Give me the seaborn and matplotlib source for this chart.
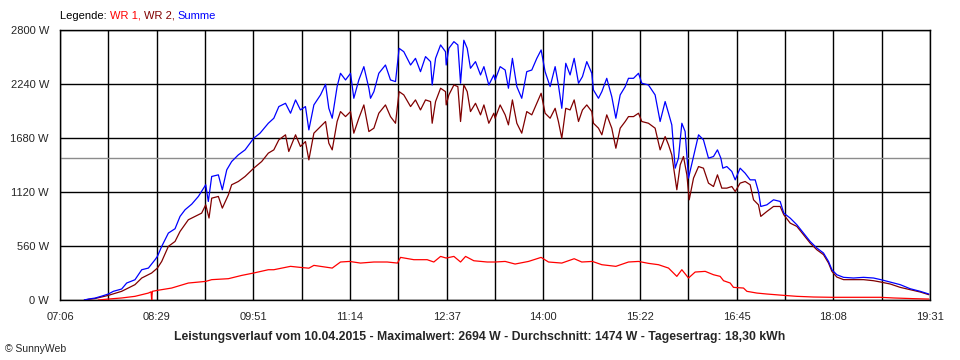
import numpy as np
import pandas as pd
import matplotlib
matplotlib.use("Agg")
import matplotlib.pyplot as plt
import seaborn as sns

# ---- data (minutes after midnight, watts) ----
t_summe = [446.8, 450.3, 456.0, 461.7, 467.4, 471.7, 478.8, 483.1, 490.2, 496.0, 501.7, 507.4, 509.4,
           513.1, 518.8, 524.5, 528.8, 533.1, 538.8, 544.5, 550.8, 553.0, 555.9, 561.6, 565.0, 568.8,
           573.0, 578.7, 584.5, 591.9, 597.3, 604.4,
           609.1, 613.4, 619.1, 623.4, 627.7, 631.9, 636.2, 639.1, 643.4, 649.1, 653.4, 656.2, 659.1,
           663.3, 666.2, 670.5, 674.8, 677.6, 681.9, 686.2, 690.5, 691.9, 694.8, 699.0, 704.7, 709.0,
           713.3, 716.4, 720.4, 726.2, 730.4, 734.7, 739.0, 743.3, 744.7, 747.6, 751.9, 756.1, 756.7,
           759.0, 763.3, 766.7, 769.0, 771.8, 774.7, 777.5, 781.8, 786.1, 789.0, 793.2, 797.5,
           798.6, 802.9, 807.2, 810.0, 813.4, 817.2, 821.4, 825.7, 830.0, 834.3, 838.0, 841.4, 845.7,
           850.0, 852.8, 855.7, 859.1, 862.8, 866.3, 870.0, 873.4, 877.1, 881.4, 882.8, 887.1, 890.0,
           894.2, 898.5, 902.0, 905.7, 910.0, 912.8, 917.1, 921.4, 924.2, 929.9, 935.6, 939.9, 944.2,
           947.1, 949.9, 952.8, 955.6, 958.5, 961.3, 964.2, 968.5, 972.8, 977.0, 981.3, 985.6,
           989.0, 991.9, 993.6, 997.0, 1001.3, 1004.2, 1008.4, 1012.7, 1017.0, 1021.3, 1024.1, 1026.1,
           1031.3, 1037.0, 1042.7, 1045.8, 1051.3, 1057.0, 1062.7, 1068.4, 1074.1, 1079.8, 1084.1,
           1087.0, 1091.2, 1097.0, 1105.5, 1114.1, 1122.6, 1128.9, 1136.9, 1145.5, 1154.0, 1162.6, 1170.0]
p_summe = [0, 10, 20, 40, 62, 90, 114, 176, 210, 314, 331, 418, 452,
           556, 694, 739, 867, 936, 994, 1074, 1195, 1022, 1281, 1298, 1143, 1350,
           1436, 1505, 1557, 1678, 1730, 1833,
           1885, 2006, 2040, 1937, 2075, 1971, 2006, 1764, 2023, 2127, 2237, 1988, 1885,
           2213, 2351, 2282, 2351, 2092, 2282, 2420, 2196, 2092, 2161, 2351, 2437, 2282,
           2265, 2610, 2575, 2437, 2506, 2368, 2524, 2472, 2230, 2506, 2645, 2575, 2437,
           2610, 2679, 2645, 2248, 2694, 2610, 2403, 2472, 2334, 2420, 2230, 2334,
           2282, 2420, 2385, 2196, 2506, 2213, 2092, 2368, 2385, 2506, 2593, 2368, 2213,
           2420, 2230, 1988, 2455, 2334, 2506, 2248, 2317, 2472, 2351, 2178, 2092, 2161,
           2299, 2109, 1885, 2127, 2213, 2299, 2299, 2351, 2248, 2230, 2127, 1851, 2058,
           1937, 1816, 1367, 1471, 1833, 1747, 1264, 1488, 1713, 1661, 1471, 1488,
           1557, 1471, 1367, 1384, 1333, 1246, 1367, 1315, 1246, 1246, 1125, 970,
           987, 1039, 1022, 901, 849, 780, 694, 607, 539, 487, 400,
           314, 262, 235, 228, 235, 228, 211, 186, 159, 117, 90, 62]

t_wr2 = [446.8, 456.0, 467.4, 478.8, 490.2, 496.0, 504.5, 509.4, 513.1, 518.8, 524.5, 528.8, 535.9,
         541.6, 547.3, 550.8, 553.6, 555.9, 561.6, 565.0, 570.2, 573.0, 578.7, 584.5, 591.9, 598.7,
         604.4,
         609.1, 613.4, 619.1, 621.9, 627.7, 631.9, 636.2, 639.1, 643.4, 649.1, 653.4, 656.2, 659.1,
         663.3, 666.2, 670.5, 674.8, 677.6, 681.9, 686.2, 690.5, 694.8, 699.0, 704.7, 709.0, 713.3,
         716.4, 720.4, 726.2, 730.4, 734.7, 739.0, 743.3, 744.7, 747.6, 751.9, 756.1, 756.7, 759.0,
         763.3, 766.7, 769.0, 771.8, 774.7, 777.5, 781.8, 786.1, 789.0, 793.2, 797.5,
         798.6, 802.9, 807.2, 810.0, 813.4, 817.2, 821.4, 825.7, 830.0, 834.3, 838.0, 841.4, 845.7,
         850.0, 852.8, 855.7, 859.1, 862.8, 866.3, 870.0, 873.4, 877.1, 881.4, 882.8, 887.1, 890.0,
         894.2, 898.5, 902.0, 905.7, 910.0, 912.8, 917.1, 921.4, 924.2, 929.9, 935.6, 939.9, 944.2,
         947.1, 949.9, 954.2, 957.1, 959.9, 962.8, 964.8, 968.5, 972.8, 977.0, 981.3, 985.6, 989.0,
         992.7, 997.0, 1001.3, 1004.2, 1008.4, 1012.7, 1017.0, 1019.9, 1024.1, 1026.1, 1031.3, 1037.0,
         1042.7, 1045.8, 1051.3, 1057.0, 1062.7, 1068.4, 1074.1, 1079.8, 1084.1, 1087.0, 1091.2,
         1097.0, 1105.5, 1114.1, 1122.6, 1128.9, 1136.9, 1145.5, 1154.0, 1162.6, 1170.0]
p_wr2 = [0, 15, 48, 90, 159, 228, 280, 331, 400, 556, 607, 711, 832,
         867, 901, 987, 850, 1056, 1074, 953, 1091, 1195, 1229, 1281, 1367, 1436,
         1523,
         1557, 1661, 1713, 1540, 1713, 1592, 1643, 1453, 1730, 1799, 1851, 1626, 1557,
         1851, 1954, 1902, 1954, 1730, 1885, 2023, 1747, 1782, 1937, 2023, 1902, 1833,
         2161, 2127, 2006, 2075, 1971, 2075, 2058, 1833, 2058, 2196, 2161, 2023, 2127,
         2230, 2213, 1851, 2230, 2161, 1954, 2040, 1920, 2023, 1833, 1937,
         1885, 2023, 1920, 1816, 2075, 1833, 1730, 1954, 1920, 2040, 2144, 1937, 1885,
         1988, 1851, 1678, 1988, 1971, 2075, 1851, 1971, 2023, 1954, 1833, 1782, 1713,
         1920, 1782, 1574, 1782, 1851, 1902, 1902, 1937, 1851, 1833, 1782, 1557, 1695,
         1609, 1505, 1143, 1402, 1488, 1298, 1039, 1264, 1384, 1367, 1212, 1177, 1298,
         1160, 1160, 1177, 1125, 1212, 1229, 1195, 1039, 987, 867, 918, 970,
         970, 884, 797, 763, 677, 590, 521, 470, 383, 297, 238,
         211, 211, 211, 200, 186, 166, 131, 107, 83, 55]

t_wr1 = [458.8, 467.4, 478.8, 490.2, 501.7, 504.0, 504.5, 505.1, 509.4, 521.6, 535.9, 550.8, 555.9,
         570.2, 581.6, 591.9, 604.4,
         609.1, 623.4, 631.9, 639.1, 643.4, 659.1, 666.2, 673.9, 683.3, 694.8, 706.2, 715.0, 717.6,
         729.0, 740.4, 746.1, 751.9, 756.7, 763.3, 769.0, 773.3, 780.4, 791.8,
         798.6, 807.2, 815.7, 827.2, 838.0, 844.3, 855.7, 866.3, 872.8, 881.9, 890.0, 902.0, 912.8,
         921.4, 929.9, 938.5, 947.1, 954.2, 958.5, 964.2, 969.9, 978.5, 985.6,
         991.3, 994.2, 999.9, 1002.7, 1011.3, 1014.2, 1022.7, 1031.3, 1045.8, 1057.0, 1071.3,
         1087.0, 1128.4, 1139.8, 1156.9, 1170.0]
p_wr1 = [0, 10, 21, 38, 72, 85, 0, 90, 100, 124, 176, 193, 211,
         221, 255, 280, 314,
         314, 349, 338, 330, 359, 331, 394, 400, 383, 394, 394, 383, 442,
         418, 418, 394, 452, 435, 452, 394, 452, 407, 394,
         394, 400, 373, 400, 442, 394, 383, 428, 394, 400, 366, 349, 394,
         400, 380, 366, 331, 245, 314, 228, 290, 297, 262,
         245, 200, 176, 131, 124, 90, 72, 62, 48, 38, 31,
         28, 28, 21, 14, 10]

x_tick_labels = ["07:06", "08:29", "09:51", "11:14", "12:37", "14:00", "15:22", "16:45", "18:08", "19:31"]
y_ticks = [0, 560, 1120, 1680, 2240, 2800]
average_w = 1474
title_text = ("Leistungsverlauf vom 10.04.2015 - Maximalwert: 2694 W - "
              "Durchschnitt: 1474 W - Tagesertrag: 18,30 kWh")

# ---- build long table ----
df = pd.concat([
    pd.DataFrame({"t": t_wr1, "p": p_wr1, "s": "WR 1"}),
    pd.DataFrame({"t": t_wr2, "p": p_wr2, "s": "WR 2"}),
    pd.DataFrame({"t": t_summe, "p": p_summe, "s": "Summe"}),
], ignore_index=True)

sns.set_style("white")
plt.rcParams["font.family"] = ["Liberation Sans", "DejaVu Sans"]

fig = plt.figure(figsize=(9.6, 3.6), dpi=100)
ax = fig.add_axes([60 / 960, 1 - 300 / 360, 870 / 960, 270 / 360])

x0, x1 = 426, 1171
major = np.linspace(x0, x1, len(x_tick_labels))
minor = (major[:-1] + major[1:]) / 2

# grid
for xv in np.concatenate([major, minor]):
    ax.axvline(xv, color="black", lw=1.0, zorder=1)
for yv in y_ticks:
    ax.axhline(yv, color="black", lw=1.0, zorder=1)
ax.axhline(average_w, color="#8c8c8c", lw=1.0, zorder=1)

palette = {"WR 1": "#ff0000", "WR 2": "#800000", "Summe": "#0000ff"}
sns.lineplot(data=df, x="t", y="p", hue="s", palette=palette, ax=ax,
             legend=False, lw=0.9, zorder=3, estimator=None, sort=False)

ax.set_xlim(x0, x1)
ax.set_ylim(0, 2800)
ax.set_xticks(major)
ax.set_xticks(minor, minor=True)
ax.set_xticklabels(x_tick_labels)
ax.set_yticks(y_ticks)
ax.set_yticklabels([f"{v} W" for v in y_ticks])
ax.tick_params(axis="both", which="both", direction="out", length=5, width=1,
               color="black", labelsize=8, pad=3)
ax.tick_params(axis="x", which="major", pad=4)
ax.set_xlabel("")
ax.set_ylabel("")
for sp in ax.spines.values():
    sp.set_color("black")
    sp.set_linewidth(1.0)
    sp.set_visible(True)

# legend text at top-left
fig.canvas.draw()
renderer = fig.canvas.get_renderer()
xpos = 60 / 960
for txt, col in [("Legende: ", "black"), ("WR 1, ", "#ff0000"),
                 ("WR 2, ", "#800000"), ("Summe", "#0000ff")]:
    t = fig.text(xpos, 1 - 16 / 360, txt, color=col, fontsize=8, va="center", ha="left")
    bb = t.get_window_extent(renderer=renderer)
    xpos += bb.width / fig.bbox.width

fig.text(480 / 960, 1 - 337 / 360, title_text, fontsize=8.8, fontweight="bold",
         ha="center", va="center")
fig.text(5 / 960, 1 - 349 / 360, "\u00a9 SunnyWeb", fontsize=7.5, ha="left", va="center")

fig.savefig("out.png", dpi=100, facecolor="white")
